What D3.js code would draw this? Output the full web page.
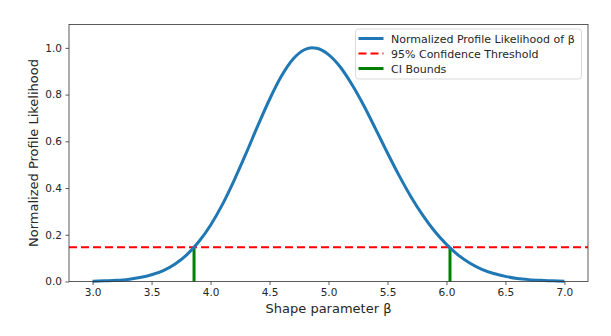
<!DOCTYPE html>
<html>
<head>
<meta charset="utf-8">
<script src="https://cdn.jsdelivr.net/npm/d3@7"></script>
<style>
  body { margin: 0; background: #fff; }
  svg { font-family: "DejaVu Sans", sans-serif; }
</style>
</head>
<body>
<svg width="611" height="336"></svg>
<script>
// beta grid and normalized profile likelihood
let betas = [3.0, 3.1, 3.2, 3.3, 3.4, 3.5, 3.6, 3.7, 3.8, 3.9,
  4.0, 4.1, 4.2, 4.3, 4.4, 4.5, 4.6, 4.7, 4.8, 4.86, 4.9,
  5.0, 5.1, 5.2, 5.3, 5.4, 5.5, 5.6, 5.7, 5.8, 5.9,
  6.0, 6.1, 6.2, 6.3, 6.4, 6.5, 6.6, 6.7, 6.8, 6.9, 7.0]
let likelihood = [0.001, 0.003, 0.005, 0.009, 0.017, 0.029, 0.047, 0.075, 0.115, 0.170,
  0.241, 0.329, 0.433, 0.547, 0.666, 0.779, 0.878, 0.952, 0.993, 1.0, 0.998,
  0.971, 0.918, 0.842, 0.752, 0.652, 0.550, 0.452, 0.362, 0.283, 0.215,
  0.159, 0.113, 0.078, 0.052, 0.034, 0.022, 0.013, 0.008, 0.005, 0.003, 0.001]
let threshold = 0.1465
let ciBounds = [3.86, 6.03]
let xTicks = [3.0, 3.5, 4.0, 4.5, 5.0, 5.5, 6.0, 6.5, 7.0]
let yTicks = [0.0, 0.2, 0.4, 0.6, 0.8, 1.0]
let legendItems = [
  { label: 'Normalized Profile Likelihood of β', color: '#1f77b4', dash: null, width: 3 },
  { label: '95% Confidence Threshold', color: '#ff0000', dash: '8,4', width: 2.2 },
  { label: 'CI Bounds', color: '#008000', dash: null, width: 3 }
]

let svg = d3.select('svg')
let m = { left: 69, right: 588, top: 24.5, bottom: 281.5 }

let x = d3.scaleLinear().domain([2.8, 7.2]).range([m.left, m.right])
let y = d3.scaleLinear().domain([0, 1.1]).range([m.bottom, m.top])

let data = betas.map((b, i) => ({ b: b, v: likelihood[i] }))

let plot = svg.append('g')

// threshold line
plot.append('line')
  .attr('x1', m.left).attr('x2', m.right)
  .attr('y1', y(threshold)).attr('y2', y(threshold))
  .attr('stroke', '#ff0000')
  .attr('stroke-width', 2.2)
  .attr('stroke-dasharray', '8,4')

// CI bounds
plot.selectAll('line.ci')
  .data(ciBounds)
  .enter().append('line')
  .attr('class', 'ci')
  .attr('x1', d => x(d)).attr('x2', d => x(d))
  .attr('y1', y(0)).attr('y2', y(threshold))
  .attr('stroke', '#008000')
  .attr('stroke-width', 3)

// likelihood curve
let line = d3.line()
  .x(d => x(d.b))
  .y(d => y(d.v))
  .curve(d3.curveMonotoneX)

plot.append('path')
  .datum(data)
  .attr('d', line)
  .attr('fill', 'none')
  .attr('stroke', '#1f77b4')
  .attr('stroke-width', 3)
  .attr('stroke-linejoin', 'round')
  .attr('stroke-linecap', 'butt')

// axes
let xAxis = svg.append('g')
  .attr('transform', `translate(0,${m.bottom})`)
  .call(d3.axisBottom(x).tickValues(xTicks).tickFormat(d3.format('.1f')).tickSize(3.5).tickPadding(3.5).tickSizeOuter(0))
let yAxis = svg.append('g')
  .attr('transform', `translate(${m.left},0)`)
  .call(d3.axisLeft(y).tickValues(yTicks).tickFormat(d3.format('.1f')).tickSize(3.5).tickPadding(3.5).tickSizeOuter(0))

;[xAxis, yAxis].forEach(a => {
  a.select('.domain').remove()
  a.selectAll('line').attr('stroke', '#333').attr('stroke-width', 0.8)
  a.selectAll('text').attr('font-size', 10.5).attr('fill', '#262626').attr('font-family', 'DejaVu Sans')
})

// frame
svg.append('rect')
  .attr('x', m.left).attr('y', m.top)
  .attr('width', m.right - m.left).attr('height', m.bottom - m.top)
  .attr('fill', 'none')
  .attr('stroke', '#333')
  .attr('stroke-width', 0.8)

// axis labels
svg.append('text')
  .attr('x', (m.left + m.right) / 2)
  .attr('y', 313)
  .attr('text-anchor', 'middle')
  .attr('font-size', 13)
  .attr('fill', '#262626')
  .text('Shape parameter β')

svg.append('text')
  .attr('transform', `translate(38,${(m.top + m.bottom) / 2}) rotate(-90)`)
  .attr('text-anchor', 'middle')
  .attr('font-size', 13)
  .attr('fill', '#262626')
  .text('Normalized Profile Likelihood')

// legend
let lg = svg.append('g').attr('transform', 'translate(355.5,29)')
lg.append('rect')
  .attr('width', 226).attr('height', 50)
  .attr('rx', 3)
  .attr('fill', 'rgba(255,255,255,0.8)')
  .attr('stroke', '#d0d0d0')
  .attr('stroke-width', 0.8)

let items = lg.selectAll('g.item')
  .data(legendItems)
  .enter().append('g')
  .attr('class', 'item')
  .attr('transform', (d, i) => `translate(0,${9.5 + i * 15})`)

items.append('line')
  .attr('x1', 3).attr('x2', 28)
  .attr('stroke', d => d.color)
  .attr('stroke-width', d => d.width)
  .attr('stroke-dasharray', d => d.dash)

items.append('text')
  .attr('x', 35.5).attr('y', 4)
  .attr('font-size', 11)
  .attr('fill', '#262626')
  .text(d => d.label)
</script>
</body>
</html>
